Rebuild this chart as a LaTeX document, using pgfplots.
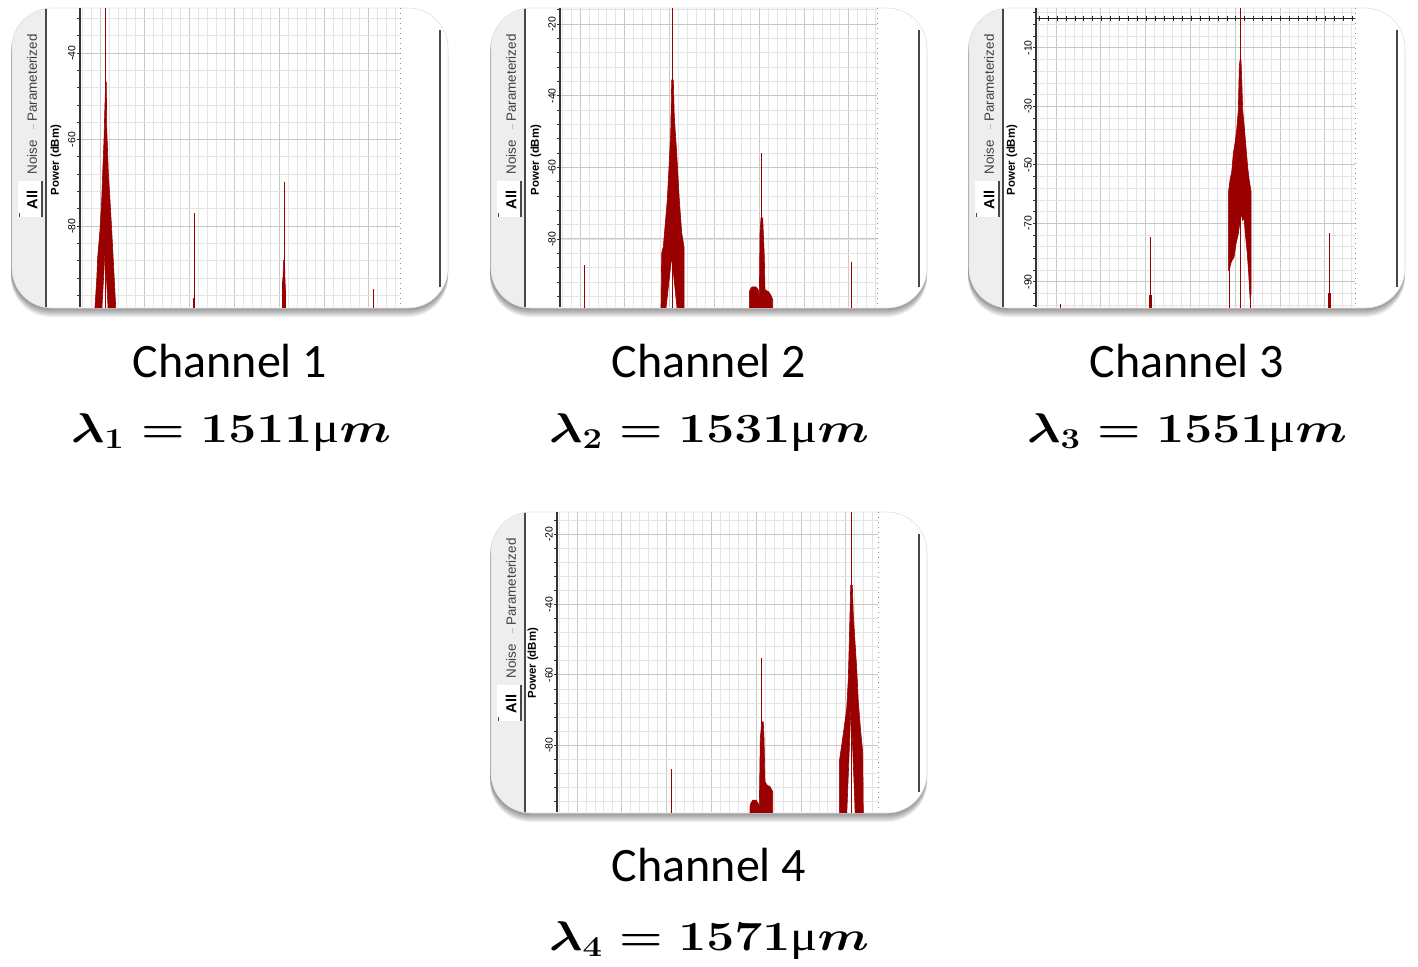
\documentclass[border=0pt]{standalone}
\usepackage[no-math]{fontspec}
\usepackage{amsmath}
\usepackage{graphicx}
\usepackage{pgfplots}
\pgfplotsset{compat=1.18}
\setmainfont{Carlito}
\newfontfamily\arial{Liberation Sans}
\newfontfamily\greekserif{Liberation Serif}

\definecolor{spec}{RGB}{155,0,0}
\definecolor{majgrid}{RGB}{200,200,200}
\definecolor{mingrid}{RGB}{228,228,228}
\definecolor{tabgray}{RGB}{238,238,238}
\definecolor{edgegray}{RGB}{72,72,72}

\newcommand{\ticfont}{\arial\fontsize{5.2}{6}\selectfont}
\newcommand{\tabfont}{\arial\fontsize{6.7}{8}\selectfont}

% card with shadow, tab strip and side lines; args in px: left top right bottom
\newcommand{\cardbg}[4]{%
  \foreach \k in {1,...,9}{\fill[black,opacity=0.055,rounded corners=20pt] (#1-1,#2+\k) rectangle (#3,#4+\k);}
  \fill[white,rounded corners=20pt] (#1,#2) rectangle (#3,#4);
  \begin{scope}
    \clip[rounded corners=20pt] (#1,#2) rectangle (#3,#4);
    \fill[tabgray] (#1,#2) rectangle (#1+33,#4);
    \fill[white] (#1+6,#2+173) rectangle (#1+30,#2+209);
    \draw[edgegray,line width=0.8pt] (#1+30,#2+173) -- (#1+30,#2+209);
    \draw[edgegray,line width=0.5pt] (#1+7,#2+205) -- (#1+7,#2+209);
    \draw[black!25,line width=0.4pt] (#1+21,#2+116) -- (#1+21,#2+121);
    \fill[edgegray] (#1+33,#2) rectangle (#1+35,#4);
    \fill[edgegray] (#3-9,#2+22) rectangle (#3-7,#4-21);
  \end{scope}
  \draw[black!12,line width=0.3pt,rounded corners=20pt] (#1,#2) rectangle (#3,#4);
  \node[rotate=90,font=\tabfont,text=black!75] at (#1+20,#2+70) {Parameterized};
  \node[rotate=90,font=\tabfont,text=black!75] at (#1+20,#2+149) {Noise};
  \node[rotate=90,font=\arial\bfseries\fontsize{7.3}{8}\selectfont] at (#1+20,#2+192) {All};
}
% axis left, plot right, top, bottom, label centre (px)
\newcommand{\axdeco}[5]{%
  \draw[black!45,dotted,line width=0.5pt] (#2,#3) -- (#2,#4);
  \node[rotate=90,font=\arial\bfseries\fontsize{5.7}{7}\selectfont] at (#1-24,#5) {Power (dBm)};
}
\newcommand{\lamline}[2]{\scalebox{1.2}[1]{\fontsize{21}{25}\selectfont\boldmath$\lambda_{#1} = \mathbf{#2}$\mbox{\greekserif μ}$m$}}

\pgfplotsset{
  spec panel/.style={
    scale only axis, anchor=north west, xmin=0,
    axis lines*=left,
    x axis line style={draw=none},
    y axis line style={draw=black!80, line width=0.6pt},
    xtick={20,64.8,...,310}, xticklabels={},
    minor xtick={2.08,11.04,...,318},
    grid=both,
    major grid style={draw=majgrid, line width=0.5pt},
    minor grid style={draw=mingrid, line width=0.4pt},
    tick align=outside, major tick length=1.5pt, minor tick length=1.5pt,
    xtick style={draw=none},
    ytick style={draw=black!80, line width=0.4pt},
    yticklabel style={rotate=90, anchor=south, font=\ticfont, inner sep=0.5pt},
    yticklabel={\pgfmathparse{int(round(\tick))}\pgfmathresult},
  },
  thin spec/.style={spec, line width=0.5pt},
  fill spec/.style={fill=spec, draw=spec, line width=0.3pt},
}

\begin{document}
\begin{tikzpicture}
\begin{scope}[x=0.5pt,y=-0.5pt]
  \useasboundingbox (0,0) rectangle (1418,966);
  \cardbg{12}{8}{448}{308}
  \cardbg{491}{8}{927}{308}
  \cardbg{969}{8}{1405}{308}
  \cardbg{491}{512}{927}{813}
\end{scope}

% Channel 1
\begin{axis}[spec panel, at={(40pt,-4pt)}, width=160pt, height=149.5pt,
  xmax=320, ymin=-98.7, ymax=-29.6,
  ytick={-80,-60,-40}, minor ytick={-96,-92,...,-32}]
\addplot[fill spec] coordinates {(15,-100) (15,-98.7) (16.7,-92.5) (17.7,-87.2) (20,-80.9) (21.7,-74) (22.7,-67.5) (24,-60.1) (24.7,-53.9) (25.7,-46.7) (26.3,-46.7) (26.7,-57.1) (28.3,-67.5) (30,-74) (31.7,-80.9) (33.3,-87.9) (35.7,-98.7) (35.7,-100) (28.3,-100) (25,-85.8) (21.7,-100)} -- cycle;
\addplot[thin spec] coordinates {(25,-100) (25,-20)};
\addplot[thin spec] coordinates {(114,-100) (114,-77)};
\addplot[fill spec] coordinates {(113.3,-100) (113.3,-96.6) (114.7,-96.6) (114.7,-100)} -- cycle;
\addplot[thin spec] coordinates {(204,-100) (204,-69.8)};
\addplot[fill spec] coordinates {(202.5,-100) (202.5,-93) (203.2,-91.3) (203.4,-88) (204.6,-88) (204.8,-91.3) (205.5,-95) (205.5,-100)} -- cycle;
\addplot[thin spec] coordinates {(293,-100) (293,-94.6)};
\end{axis}

% Channel 2
\begin{axis}[spec panel, at={(280pt,-4pt)}, width=158.5pt, height=149.5pt,
  xmax=317, ymin=-99.0, ymax=-15.5,
  ytick={-80,-60,-40,-20}, minor ytick={-96,-92,...,-16}]
\addplot[fill spec] coordinates {(101,-100) (101,-98.9) (101.7,-83.9) (103.3,-82.2) (105,-76.6) (107.3,-69.1) (109,-59.9) (110.7,-50.4) (111.7,-35.6) (113.3,-35.6) (114.3,-45.9) (116.7,-56) (119.3,-69.1) (121.7,-78.3) (124,-82.2) (124,-100) (117.3,-100) (111.7,-85) (105.7,-100)} -- cycle;
\addplot[thin spec] coordinates {(112.3,-100) (112.3,-10)};
\addplot[thin spec] coordinates {(24,-100) (24,-87.2)};
\addplot[fill spec] coordinates {(189.3,-100) (189.3,-95) (190,-94.2) (192,-93.4) (196,-93.4) (198.3,-94.2) (199.3,-96.7) (200,-78.4) (201,-74.1) (202.7,-74.1) (203.3,-78.3) (204.3,-84.9) (205,-94.2) (208.3,-94.7) (210.7,-95.6) (212.7,-96.9) (212.7,-100)} -- cycle;
\addplot[thin spec] coordinates {(201.7,-100) (201.7,-56)};
\addplot[thin spec] coordinates {(291,-100) (291,-86.4)};
\end{axis}

% Channel 3
\begin{axis}[spec panel, at={(518pt,-4pt)}, width=159.5pt, height=149.5pt,
  xmax=319, ymin=-98.6, ymax=3.6,
  ytick={-90,-70,-50,-30,-10}, minor ytick={-98,-94,...,2}]
\addplot[black!85, line width=0.8pt] coordinates {(0,0) (319,0)};
\addplot[black!85, only marks, mark=|, mark size=1.25pt, mark options={line width=0.4pt}] coordinates {(3.1,0) (12.1,0) (21,0) (29.9,0) (38.9,0) (47.8,0) (56.8,0) (65.7,0) (74.6,0) (83.6,0) (92.5,0) (101.5,0) (110.4,0) (119.3,0) (128.3,0) (137.2,0) (146.2,0) (155.1,0) (164,0) (173,0) (181.9,0) (190.9,0) (199.8,0) (208.7,0) (217.7,0) (226.6,0) (235.6,0) (244.5,0) (253.4,0) (262.4,0) (271.3,0) (280.3,0) (289.2,0) (298.1,0) (307.1,0) (316,0)};
\addplot[fill spec] coordinates {(192.3,-86.1) (192.3,-59.8) (194,-55.2) (195.7,-52.5) (197.3,-46.1) (199,-42.6) (200.7,-38) (202.3,-31.2) (203.3,-16.3) (204,-14.2) (205,-14.2) (205.7,-20.6) (206.7,-31.4) (208,-36) (210,-44) (211.7,-50.9) (213.3,-55.5) (215,-59) (215,-94.3) (214,-95.4) (212.7,-87.3) (211.3,-80.5) (209.3,-73.6) (208,-67.9) (206.7,-69) (205,-66.8) (202.3,-73.6) (200,-77) (198,-81.6) (196,-82.7) (194.7,-83.8) (193.3,-86.1)} -- cycle;
\addplot[thin spec] coordinates {(204,-100) (204,10)};
\addplot[thin spec] coordinates {(193.7,-100) (193.7,-84)};
\addplot[thin spec] coordinates {(214,-100) (214,-94)};
\addplot[thin spec] coordinates {(114,-100) (114,-74.6)};
\addplot[fill spec] coordinates {(113,-100) (113,-94.6) (115.3,-94.6) (115.3,-100)} -- cycle;
\addplot[thin spec] coordinates {(293,-100) (293,-73.2)};
\addplot[fill spec] coordinates {(292,-100) (292,-93.9) (294.3,-93.9) (294.3,-100)} -- cycle;
\addplot[thin spec] coordinates {(24,-100) (24,-97.5)};
\end{axis}

% Channel 4
\begin{axis}[spec panel, at={(278.5pt,-256pt)}, width=160.5pt, height=150pt,
  xmax=321, ymin=-99.0, ymax=-13.7,
  ytick={-80,-60,-40,-20}, minor ytick={-96,-92,...,-16}]
\addplot[thin spec] coordinates {(114.7,-100) (114.7,-86.8)};
\addplot[fill spec] coordinates {(193,-100) (193,-97.5) (193.7,-96.6) (195.7,-95.6) (199,-95.6) (201.3,-96.6) (202.3,-97.5) (203.3,-78.1) (204.7,-73.4) (206.3,-73.4) (207,-78.1) (208,-90.4) (210.3,-91.4) (213,-91.8) (215.7,-93.2) (215.7,-100)} -- cycle;
\addplot[thin spec] coordinates {(204.7,-100) (204.7,-55.3)};
\addplot[fill spec] coordinates {(282.3,-100) (282.3,-84.7) (284.7,-80) (287,-75.3) (289.7,-69.6) (291.3,-61) (292.3,-50.6) (293.7,-34.5) (295.3,-34.5) (296.3,-43) (298,-50.6) (299.7,-58.2) (301.3,-67.7) (303.7,-76.2) (305.7,-81.9) (306.3,-100) (298.3,-100) (294,-68.6) (289.7,-100)} -- cycle;
\addplot[thin spec] coordinates {(294.7,-100) (294.7,-10)};
\end{axis}

\begin{scope}[x=0.5pt,y=-0.5pt]
  \axdeco{80}{400}{8}{307}{160}
  \axdeco{560}{877}{8}{307}{160}
  \axdeco{1036}{1355}{8}{307}{160}
  \axdeco{557}{878}{512}{812}{663}
  \node[anchor=base,font=\fontsize{24}{28}\selectfont] at (230,377) {Channel 1};
  \node[anchor=base,font=\fontsize{24}{28}\selectfont] at (709,377) {Channel 2};
  \node[anchor=base,font=\fontsize{24}{28}\selectfont] at (1187,377) {Channel 3};
  \node[anchor=base,font=\fontsize{24}{28}\selectfont] at (709,881) {Channel 4};
  \node[anchor=base] at (231,442) {\lamline{1}{1511}};
  \node[anchor=base] at (709,442) {\lamline{2}{1531}};
  \node[anchor=base] at (1187,442) {\lamline{3}{1551}};
  \node[anchor=base] at (709,950) {\lamline{4}{1571}};
\end{scope}
\end{tikzpicture}
\end{document}
